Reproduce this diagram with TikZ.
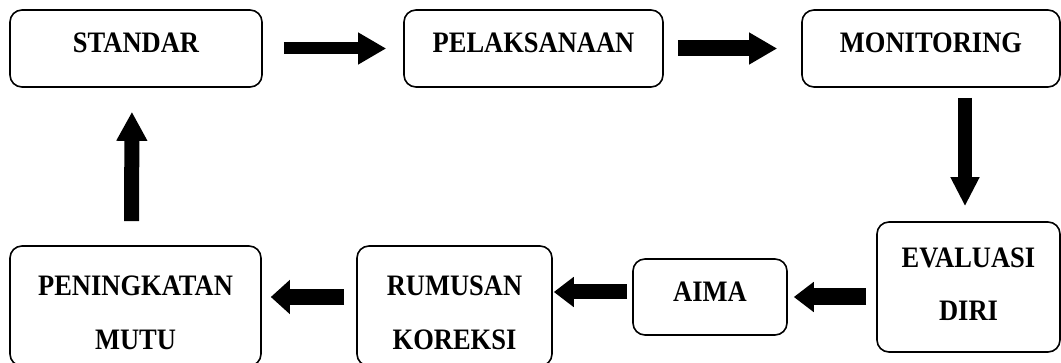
\documentclass[tikz,border=0pt]{standalone}
\usepackage{fontspec}
\setmainfont{Liberation Serif}
\usetikzlibrary{arrows.meta,calc}
\newcommand\tx[1]{\scalebox{1}[1.12]{#1}}
\tikzset{
  box/.style={draw=black, line width=1.6pt, rounded corners=12pt, fill=none, inner sep=0pt},
  txt/.style={inner sep=0pt, font=\bfseries\fontsize{26.5pt}{30pt}\selectfont},
  blk/.style={draw=black, line cap=butt},
}
\begin{document}
\begin{tikzpicture}[x=1pt,y=-1pt]
\useasboundingbox (0,0) rectangle (1061,363);
% boxes
\node[box, minimum width=252pt, minimum height=77pt] (std) at (136,48.5) {};
\node[box, minimum width=259pt, minimum height=77pt] (pel) at (533.5,48.5) {};
\node[box, minimum width=258pt, minimum height=77pt] (mon) at (931,48.5) {};
\node[box, minimum width=183pt, minimum height=130pt] (eval) at (968.5,287) {};
\node[box, minimum width=154pt, minimum height=76pt] (aima) at (710,297) {};
\node[box, minimum width=195pt, minimum height=120pt] (rum) at (454.5,306) {};
\node[box, minimum width=251pt, minimum height=120pt] (pen) at (135.5,306) {};
% texts
\node[txt] (stdt) at (136,43) {\tx{STANDAR}};
\node[txt] (pelt) at (533.5,43) {\tx{PELAKSANAAN}};
\node[txt] (mont) at (931,43) {\tx{MONITORING}};
\node[txt] (evalta) at (968.5,258) {\tx{EVALUASI}};
\node[txt] (evaltb) at (968.5,311) {\tx{DIRI}};
\node[txt] (aimat) at (710,292) {\tx{AIMA}};
\node[txt] (rumta) at (454.5,286) {\tx{RUMUSAN}};
\node[txt] (rumtb) at (454.5,340) {\tx{KOREKSI}};
\node[txt] (penta) at (135.5,286) {\tx{PENINGKATAN}};
\node[txt] (pentb) at (135.5,340) {\tx{MUTU}};
% arrows
\draw[blk, line width=12pt, -{Triangle[length=28pt,width=30pt]}, shorten <=21pt, shorten >=17pt] (std.east) -- (pel.west);
\draw[blk, line width=16pt, -{Triangle[length=28pt,width=30pt]}, shorten <=14pt, shorten >=24pt] (pel.east) -- (mon.west);
\draw[blk, line width=14pt, -{Triangle[length=29pt,width=27pt]}, shorten <=10pt, shorten >=15pt] ([xshift=34pt]mon.south) -- ([xshift=-3.5pt]eval.north);
\draw[blk, line width=17pt, -{Triangle[length=20pt,width=29pt]}, shorten <=10pt, shorten >=6pt] (eval.west |- aima.east) -- (aima.east);
\draw[blk, line width=15pt, -{Triangle[length=20pt,width=29pt]}, shorten <=5pt, shorten >=1pt] ([yshift=5pt]aima.west) -- ([yshift=14pt]rum.east);
\draw[blk, line width=16pt, -{Triangle[length=19pt,width=33pt]}, shorten <=12pt, shorten >=9pt] ([yshift=9pt]rum.west) -- ([yshift=9pt]pen.east);
\draw[blk, line width=15pt, -{Triangle[length=29pt,width=29pt]}, shorten <=24pt, shorten >=24pt] ([xshift=-4pt]pen.north) -- ([xshift=-4pt]std.south);
\end{tikzpicture}
\end{document}
